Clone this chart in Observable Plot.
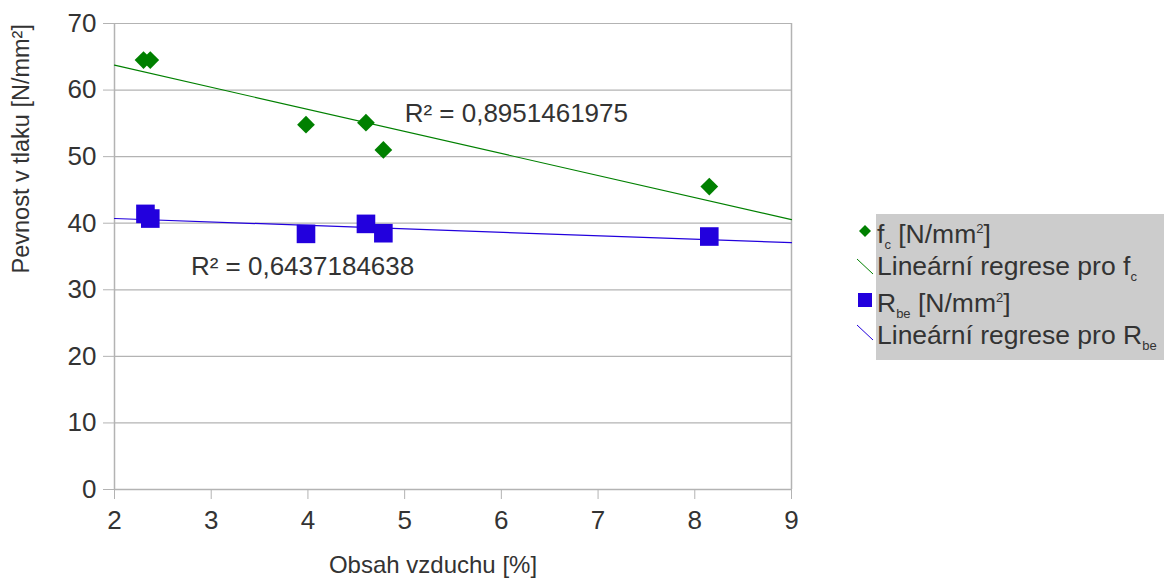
<!DOCTYPE html>
<html>
<head>
<meta charset="utf-8">
<script src="https://cdn.jsdelivr.net/npm/d3@7"></script>
<script src="https://cdn.jsdelivr.net/npm/@observablehq/plot@0.6"></script>
<style>
  html, body { margin: 0; padding: 0; background: #fff; }
  #wrap { position: relative; width: 1166px; height: 585px; font-family: "Liberation Sans", Arial, sans-serif; color: #333; }
  #legend { position: absolute; left: 876px; top: 214px; width: 288px; height: 146px; background: #cccccc; }
  .li { position: absolute; left: 0; font-size: 26.5px; line-height: 30px; white-space: nowrap; color: #333; }
  .li sub { font-size: 13px; position: relative; top: 6px; vertical-align: baseline; line-height: 0; }
  .li sup { font-size: 13px; position: relative; top: -10px; vertical-align: baseline; line-height: 0; }
</style>
</head>
<body>
<div id="wrap"></div>
<script>
const airContent = [2.30, 2.37, 3.98, 4.60, 4.78, 8.15];
const fcValues   = [64.5, 64.5, 54.8, 55.1, 51.0, 45.5];
const airContentB = [2.32, 2.37, 3.98, 4.60, 4.78, 8.15];
const rbeValues  = [41.4, 40.7, 38.4, 39.9, 38.5, 38.0];
const xDomain = [2, 9];
const yDomain = [0, 70];
const xTicks = [2, 3, 4, 5, 6, 7, 8, 9];
const yTicks = [0, 10, 20, 30, 40, 50, 60, 70];
const r2Labels = ["R² = 0,8951461975", "R² = 0,6437184638"];
const r2LabelX = [5.0, 2.79];
const r2LabelY = [56.5, 33.5];

const green = "#008000";
const blue = "#2200dd";

function regress(xs, ys) {
  const mx = d3.mean(xs), my = d3.mean(ys);
  let sxy = 0, sxx = 0;
  xs.forEach((x, i) => { sxy += (x - mx) * (ys[i] - my); sxx += (x - mx) ** 2; });
  const b = sxy / sxx, a = my - b * mx;
  return xDomain.map(x => ({x, y: a + b * x}));
}

const fcPts = airContent.map((x, i) => ({x, y: fcValues[i]}));
const rbePts = airContentB.map((x, i) => ({x, y: rbeValues[i]}));
const fcLine = regress(airContent, fcValues);
const rbeLine = regress(airContentB, rbeValues);
const labels = r2Labels.map((t, i) => ({t, x: r2LabelX[i], y: r2LabelY[i]}));

const chart = Plot.plot({
  width: 1166,
  height: 585,
  marginLeft: 114,
  marginRight: 375,
  marginTop: 23,
  marginBottom: 96,
  style: { fontFamily: "Liberation Sans, Arial, sans-serif", color: "#333", background: "transparent" },
  x: { domain: xDomain, ticks: xTicks },
  y: { domain: yDomain, ticks: yTicks },
  marks: [
    Plot.gridY(yTicks, { stroke: "#b3b3b3", strokeOpacity: 1, strokeWidth: 1.2 }),
    Plot.ruleX([9], { stroke: "#b3b3b3", strokeWidth: 1.5 }),
    Plot.ruleX([2], { stroke: "#b3b3b3", strokeWidth: 1.5 }),
    Plot.ruleY([0], { stroke: "#b3b3b3", strokeWidth: 1.5 }),
    Plot.axisY(yTicks, { tickSize: 11, tickPadding: 7, stroke: "#b3b3b3", fontSize: 26, fill: "#333", label: null }),
    Plot.axisX(xTicks, { tickSize: 10, tickPadding: 11, stroke: "#b3b3b3", fontSize: 26, fill: "#333", label: null }),
    Plot.line(fcLine, { x: "x", y: "y", stroke: green, strokeWidth: 1.2 }),
    Plot.line(rbeLine, { x: "x", y: "y", stroke: blue, strokeWidth: 1.2 }),
    Plot.dot(fcPts, { x: "x", y: "y", symbol: "diamond2", r: 8, fill: green, stroke: "none" }),
    Plot.dot(rbePts, { x: "x", y: "y", symbol: "square", r: 10.5, fill: blue, stroke: "none" }),
    Plot.text(labels, { x: "x", y: "y", text: "t", textAnchor: "start", fontSize: 26, fill: "#333" }),
    Plot.text(["Obsah vzduchu [%]"], { frameAnchor: "bottom", dy: 83, dx: -20, fontSize: 24, fill: "#333" }),
    Plot.text(["Pevnost v tlaku [N/mm²]"], { frameAnchor: "left", dx: -93, dy: 17, rotate: -90, fontSize: 23.5, fill: "#333" })
  ]
});

const wrap = document.getElementById("wrap");
wrap.appendChild(chart);

const legendItems = [
  { html: 'f<sub>c</sub> [N/mm<sup>2</sup>]', sym: "diamond", color: green, top: 219, symY: 231 },
  { html: 'Lineární regrese pro f<sub>c</sub>', sym: "line", color: green, top: 251, symY: 267 },
  { html: 'R<sub>be</sub> [N/mm<sup>2</sup>]', sym: "square", color: blue, top: 288, symY: 300 },
  { html: 'Lineární regrese pro R<sub>be</sub>', sym: "line", color: blue, top: 320, symY: 333 }
];
const legend = document.createElement("div");
legend.id = "legend";
wrap.appendChild(legend);
legendItems.forEach((it) => {
  const d = document.createElement("div");
  d.className = "li";
  d.style.top = (it.top - 214) + "px";
  d.style.left = "1px";
  d.innerHTML = it.html;
  legend.appendChild(d);
  const s = document.createElementNS("http://www.w3.org/2000/svg", "svg");
  s.setAttribute("width", 20); s.setAttribute("height", 20);
  s.style.position = "absolute";
  s.style.left = (865 - 10) + "px";
  s.style.top = (it.symY - 10) + "px";
  let inner = "";
  if (it.sym === "diamond") inner = `<path d="M10,4 L16,10 L10,16 L4,10 Z" fill="${it.color}"/>`;
  if (it.sym === "square") inner = `<rect x="3" y="3" width="14" height="14" fill="${it.color}"/>`;
  if (it.sym === "line") inner = `<line x1="2" y1="2" x2="18" y2="17" stroke="${it.color}" stroke-width="1"/>`;
  s.innerHTML = inner;
  wrap.appendChild(s);
});
</script>
</body>
</html>
